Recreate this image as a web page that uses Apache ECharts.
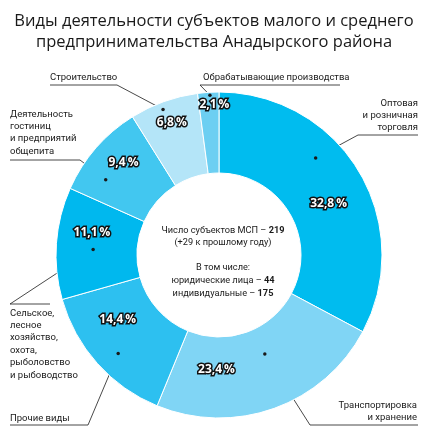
<!DOCTYPE html>
<html>
<head>
<meta charset="utf-8">
<script src="https://cdn.jsdelivr.net/npm/echarts@6/dist/echarts.min.js"></script>
<style>
html, body { margin: 0; padding: 0; background: #fff; }
#chart { width: 428px; height: 433px; }
</style>
</head>
<body>
<div id="chart"></div>
<script>
var categories = [
	'Оптовая\nи розничная\nторговля',
	'Транспортировка\nи хранение',
	'Прочие виды',
	'Сельское,\nлесное\nхозяйство,\nохота,\nрыболовство\nи рыбоводство',
	'Деятельность\nгостиниц\nи предприятий\nобщепита',
	'Строительство',
	'Обрабатывающие производства'
];
var shares = [32.8, 23.4, 14.4, 11.1, 9.4, 6.8, 2.1];
var totalCount = 219, countGrowth = 29, legalEntities = 44, individuals = 175;

var colors = ['#00bcef', '#80d5f5', '#2dc0f0', '#00b8ee', '#42c7f0', '#b4e5f8', '#6ccff2'];

var CX = 219, CY = 255, R0 = 82, R1 = 163;

// percent text spot: [fraction along the slice, radius]
var pctSpot = [[0.55, 121], [0.75, 115], [0.68, 120], [0.65, 129], [0.59, 133], [0.51, 141], [0.77, 150]];
// leader dot inside the slice
var dotSpot = [[0.38, 137], [0.44, 109], [0.45, 141], [0.46, 126], [0.28, 136], [0.45, 156], [0.57, 160]];
// callout text anchor, underline [x1, x2, y], corner = which end the leader bends at
var callouts = [
	{ x: 418, y: 97, align: 'right', line: [358, 418, 135], corner: 0 },
	{ x: 417, y: 399, align: 'right', line: [310, 418, 425], corner: 0 },
	{ x: 10, y: 412, align: 'left', line: [10, 88, 425], corner: 1 },
	{ x: 10, y: 307, align: 'left', line: [10, 50, 304], corner: 0 },
	{ x: 10, y: 108, align: 'left', line: [10, 80, 160], corner: 1 },
	{ x: 50, y: 71, align: 'left', line: [50, 117, 85], corner: 1 },
	{ x: 203, y: 71, align: 'left', line: [200, 340, 85], corner: 0 }
];

var total = 0, starts = [];
shares.forEach(function (v) { starts.push(total); total += v; });

function polarPoint(i, spot) {
	return [spot[1], starts[i] + spot[0] * shares[i]];
}
function toPixel(p) {
	var a = p[1] / total * Math.PI * 2;
	return [CX + p[0] * Math.sin(a), CY - p[0] * Math.cos(a)];
}
function fmt(v) {
	return v.toFixed(1).replace('.', ',') + '\u2009%';
}

var chart = echarts.init(document.getElementById('chart'));

var option = {
	animation: false,
	title: [{
		text: 'Виды деятельности субъектов малого и среднего\nпредпринимательства Анадырского района',
		left: 'center',
		top: 6,
		textStyle: { fontFamily: 'Open Sans', fontWeight: 'normal', fontSize: 16.5, lineHeight: 21, color: '#1a1a1a' }
	}, {
		text: '{a|Число субъектов МСП – }{b|' + totalCount + '}\n{a|(+' + countGrowth + ' к прошлому году)}\n{a| }\n' +
			'{a|В том числе:}\n{a|юридические лица – }{b|' + legalEntities + '}\n{a|индивидуальные – }{b|' + individuals + '}',
		left: 218,
		top: 219,
		textAlign: 'center',
		textStyle: {
			fontWeight: 'normal',
			lineHeight: 12.6,
			rich: {
				a: { fontFamily: 'Roboto', fontSize: 9.2, fontWeight: 'normal', lineHeight: 12.6, color: '#1a1a1a' },
				b: { fontFamily: 'Roboto', fontSize: 9.2, fontWeight: 'bold', lineHeight: 12.6, color: '#1a1a1a' }
			}
		}
	}],
	polar: { center: [CX, CY], radius: R1 },
	angleAxis: { type: 'value', min: 0, max: total, startAngle: 90, clockwise: true, show: false },
	radiusAxis: { type: 'value', min: 0, max: R1, show: false },
	series: [{
		type: 'pie',
		center: [CX, CY],
		radius: [R0, R1],
		startAngle: 90,
		clockwise: true,
		avoidLabelOverlap: false,
		silent: true,
		itemStyle: { borderColor: '#fff', borderWidth: 1 },
		label: {
			show: true,
			position: 'outside',
			fontFamily: 'Roboto',
			fontSize: 9.5,
			lineHeight: 12.4,
			color: '#1a1a1a'
		},
		labelLine: { show: true, lineStyle: { color: '#1a1a1a', width: 0.8 } },
		labelLayout: function (params) {
			var i = params.dataIndex, c = callouts[i];
			var dot = toPixel(polarPoint(i, dotSpot[i]));
			return {
				x: c.x,
				y: c.y,
				align: c.align,
				verticalAlign: 'top',
				labelLinePoints: [dot, [c.line[c.corner], c.line[2]], [c.line[1 - c.corner], c.line[2]]]
			};
		},
		data: categories.map(function (name, i) {
			return { name: name, value: shares[i], itemStyle: { color: colors[i] } };
		})
	}, {
		type: 'scatter',
		coordinateSystem: 'polar',
		silent: true,
		symbolSize: 3.5,
		itemStyle: { color: '#1a1a1a', opacity: 1 },
		z: 5,
		data: shares.map(function (v, i) { return polarPoint(i, dotSpot[i]); })
	}, {
		type: 'scatter',
		coordinateSystem: 'polar',
		silent: true,
		symbolSize: 0.1,
		itemStyle: { color: 'transparent', opacity: 1 },
		z: 6,
		label: {
			show: true,
			position: 'inside',
			formatter: function (p) { return fmt(shares[p.dataIndex]); },
			fontFamily: 'Open Sans',
			fontWeight: 'bold',
			fontSize: 12,
			color: '#fff',
			textBorderColor: '#111',
			textBorderWidth: 3
		},
		data: shares.map(function (v, i) { return polarPoint(i, pctSpot[i]); })
	}]
};

chart.setOption(option);
</script>
</body>
</html>
